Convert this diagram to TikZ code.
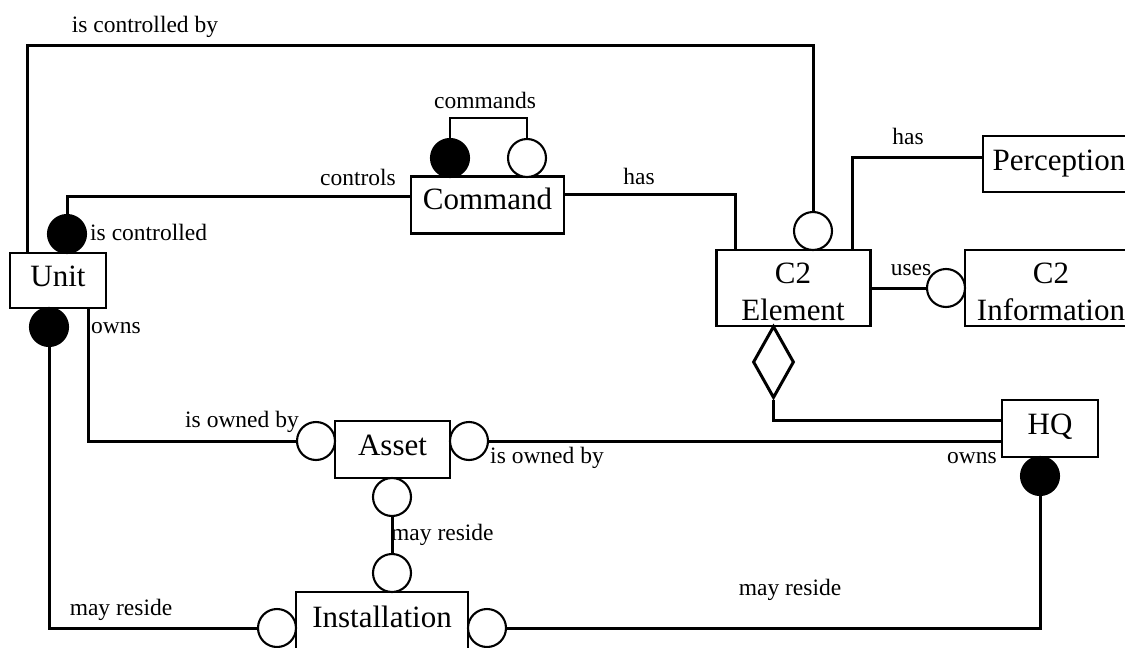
\documentclass[tikz,border=0pt]{standalone}
\usepackage{fontspec}
\setmainfont{Liberation Serif}
\usetikzlibrary{shapes.geometric}
\begin{document}
\begin{tikzpicture}[x=1pt,y=-1pt,
  ent/.style={draw, line width=2.3pt, inner sep=0pt, align=center,
    text height=21pt, text depth=9pt, font=\fontsize{31}{37}\selectfont},
  enttext/.style={inner sep=0pt, align=center, font=\fontsize{31}{37}\selectfont},
  lbl/.style={inner sep=0pt, font=\fontsize{23.5}{26}\selectfont},
  opt/.style={circle, draw, line width=2.1pt, fill=white, minimum size=38pt, inner sep=0pt},
  req/.style={opt, fill=black},
  wire/.style={line width=3pt}]
\clip (0,0) rectangle (1125,648);
\fill[white] (0,0) rectangle (1125,648);

% entities
\node[ent, minimum width=96pt, minimum height=55pt] (unit) at (58,280.5) {Unit};
\node[ent, minimum width=153pt, minimum height=57pt, text depth=12pt] (cmd) at (487.5,205) {Command};
\node[ent, minimum width=154pt, minimum height=76pt] (c2e) at (793.5,288) {};
\node[enttext] (c2etext) at (793,292) {C2\\Element};
\node[ent, minimum width=152pt, minimum height=56pt] (perc) at (1059,164) {Perception};
\node[ent, minimum width=170pt, minimum height=76pt] (c2i) at (1050,288) {};
\node[enttext] (c2itext) at (1051,292) {C2\\Information};
\node[ent, minimum width=96pt, minimum height=57pt] (hq) at (1050,428.5) {HQ};
\node[ent, minimum width=115pt, minimum height=57pt] (asset) at (392.5,449.5) {Asset};
\node[ent, minimum width=172pt, minimum height=58pt] (inst) at (382,621) {Installation};

% cardinality markers
\node[req] (cmdA) at (450,158) {};
\node[opt] (cmdB) at (527,158) {};
\node[req] (uTop) at (67,234) {};
\node[req] (uBot) at (49,327) {};
\node[opt] (c2top) at (813,231) {};
\node[opt] (c2iL) at (946,288) {};
\node[opt] (assetL) at (316,441) {};
\node[opt] (assetR) at (469,441) {};
\node[opt] (assetB) at (392,497) {};
\node[opt] (instT) at (392,573) {};
\node[opt] (instL) at (277,628) {};
\node[opt] (instR) at (487,628) {};
\node[req] (hqB) at (1040,476) {};
\node[diamond, draw, line width=3pt, minimum width=41pt, minimum height=72pt, inner sep=0pt] (dia) at (773.5,362) {};

% relationships
\draw[wire] (c2top.north) -- (c2top.north |- 0,45) -| ([xshift=19pt]unit.north west);
\draw[wire] ([yshift=9pt]cmd.west) -| (uTop.north);
\draw[wire, line width=2.3pt] (cmdA.north) -- ++(0,-20) -| (cmdB.north);
\draw[wire] ([yshift=11pt]cmd.east) -| ([xshift=20pt]c2e.north west);
\draw[wire] ([xshift=-19pt]c2e.north east) |- ([yshift=7pt]perc.west);
\draw[wire] (c2e.east) -- (c2iL.west);
\draw[wire] (dia.south) |- ([yshift=8.5pt]hq.west);
\draw[wire] ([xshift=-19pt]unit.south east) |- (assetL.west);
\draw[wire] (assetR.east) -- (assetR.east -| hq.west);
\draw[wire] (assetB.south) -- (instT.north);
\draw[wire] (uBot.south) |- (instL.west);
\draw[wire] (instR.east) -| (hqB.south);

% role names
\node[lbl] (l1) at (145,27) {is controlled by};
\node[lbl] (l2) at (485,100) {commands};
\node[lbl] (l3) at (358,177) {controls};
\node[lbl, anchor=west] (l4) at (90,232) {is controlled};
\node[lbl, anchor=west] (l5) at (91,328) {owns};
\node[lbl] (l6) at (639,176) {has};
\node[lbl] (l7) at (908,136) {has};
\node[lbl] (l8) at (911,270) {uses};
\node[lbl] (l9) at (242,422) {is owned by};
\node[lbl] (l10) at (547,458) {is owned by};
\node[lbl] (l11) at (972,458) {owns};
\node[lbl, anchor=west] (l12) at (391,535) {may reside};
\node[lbl] (l13) at (121,610) {may reside};
\node[lbl] (l14) at (790,590) {may reside};
\end{tikzpicture}
\end{document}
